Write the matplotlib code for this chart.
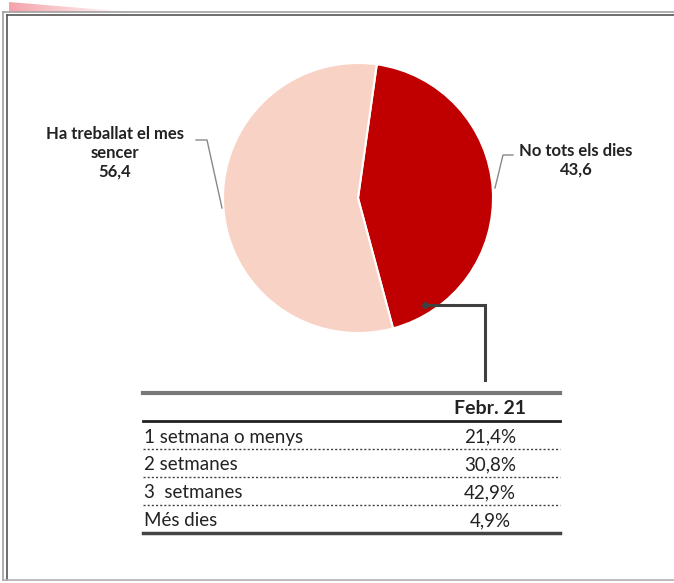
import numpy as np
import matplotlib.pyplot as plt
from matplotlib.patches import Polygon
from matplotlib.colors import LinearSegmentedColormap

plt.rcParams['font.family'] = ['Lato', 'DejaVu Sans']

# pie data
pie_labels = ["No tots els dies", "Ha treballat el mes\nsencer"]
pie_values = [43.6, 56.4]
pie_colors = ["#c00000", "#f8d3c5"]

# table data
table_header = "Febr. 21"
row_labels = ["1 setmana o menys", "2 setmanes", "3  setmanes", "Més dies"]
row_values = [21.4, 30.8, 42.9, 4.9]

W, H = 674, 583
Y = lambda y: H - y  # image px -> plot coords

fig = plt.figure(figsize=(W / 100, H / 100), dpi=100)
ax = fig.add_axes([0, 0, 1, 1])

# frame + pink corner
grad = np.linspace(1, 0, 256).reshape(1, -1)
im = ax.imshow(grad, extent=(9, 130, Y(12), Y(2)),
               cmap=LinearSegmentedColormap.from_list("p", ["#ffffff", "#f4a3aa"]),
               aspect='auto', zorder=1)
tri = Polygon([(9, Y(2)), (9, Y(12)), (130, Y(12))], closed=True, transform=ax.transData)
im.set_clip_path(tri)
ax.plot([3, W], [Y(12), Y(12)], color="#a0a0a0", lw=1.2, zorder=2)
ax.plot([7, W], [Y(15), Y(15)], color="#555555", lw=1.2, zorder=2)
ax.plot([3, 3], [Y(12), Y(580)], color="#a0a0a0", lw=1.2)
ax.plot([7, 7], [Y(15), Y(580)], color="#555555", lw=1.2)
ax.plot([3, W], [Y(580), Y(580)], color="#b0b0b0", lw=1.2)

# pie
ax.pie(pie_values, colors=pie_colors, startangle=82, counterclock=False,
       center=(358, Y(198)), radius=135,
       wedgeprops=dict(edgecolor="white", linewidth=1.5))

# labels + leader lines
ax.text(115, Y(153), f"{pie_labels[1]}\n{str(pie_values[1]).replace('.', ',')}",
        ha="center", va="center", fontsize=12, fontweight="bold", color="#222222",
        linespacing=1.2)
ax.plot([196, 207, 222], [Y(140), Y(140), Y(208)], color="#888888", lw=1)
ax.text(576, Y(160), f"{pie_labels[0]}\n{str(pie_values[0]).replace('.', ',')}",
        ha="center", va="center", fontsize=12, fontweight="bold", color="#222222",
        linespacing=1.2)
ax.plot([513, 503, 495], [Y(155), Y(155), Y(188)], color="#888888", lw=1)

# connector to table
ax.plot([425, 485, 485], [Y(305), Y(305), Y(380)], color="#404040", lw=2.2,
        solid_joinstyle="miter")
ax.plot([425], [Y(305)], "o", color="#404040", ms=4)

# table
x0, x1, xv = 143, 560, 490
ax.plot([x0, x1], [Y(393), Y(393)], color="#777777", lw=3)
ax.text(xv, Y(409), table_header, ha="center", va="center", fontsize=14,
        fontweight="bold", color="#222222")
ax.plot([x0, x1], [Y(421), Y(421)], color="#222222", lw=2)
row_h = 28
for i, (lab, v) in enumerate(zip(row_labels, row_values)):
    yc = 437 + i * row_h
    ax.text(x0 + 1, Y(yc), lab, ha="left", va="center", fontsize=13.5, color="#222222")
    ax.text(xv, Y(yc), f"{v:.1f}%".replace(".", ","), ha="center", va="center",
            fontsize=13.5, color="#222222")
    if i < len(row_labels) - 1:
        ax.plot([x0, x1], [Y(yc + 12), Y(yc + 12)], color="#444444", lw=1,
                linestyle=(0, (1.5, 1.5)))
ax.plot([x0, x1], [Y(533), Y(533)], color="#444444", lw=2.5)

ax.set_xlim(0, W)
ax.set_ylim(0, H)
ax.set_aspect("auto")
ax.set_axis_off()

fig.savefig("out.png", dpi=100)
